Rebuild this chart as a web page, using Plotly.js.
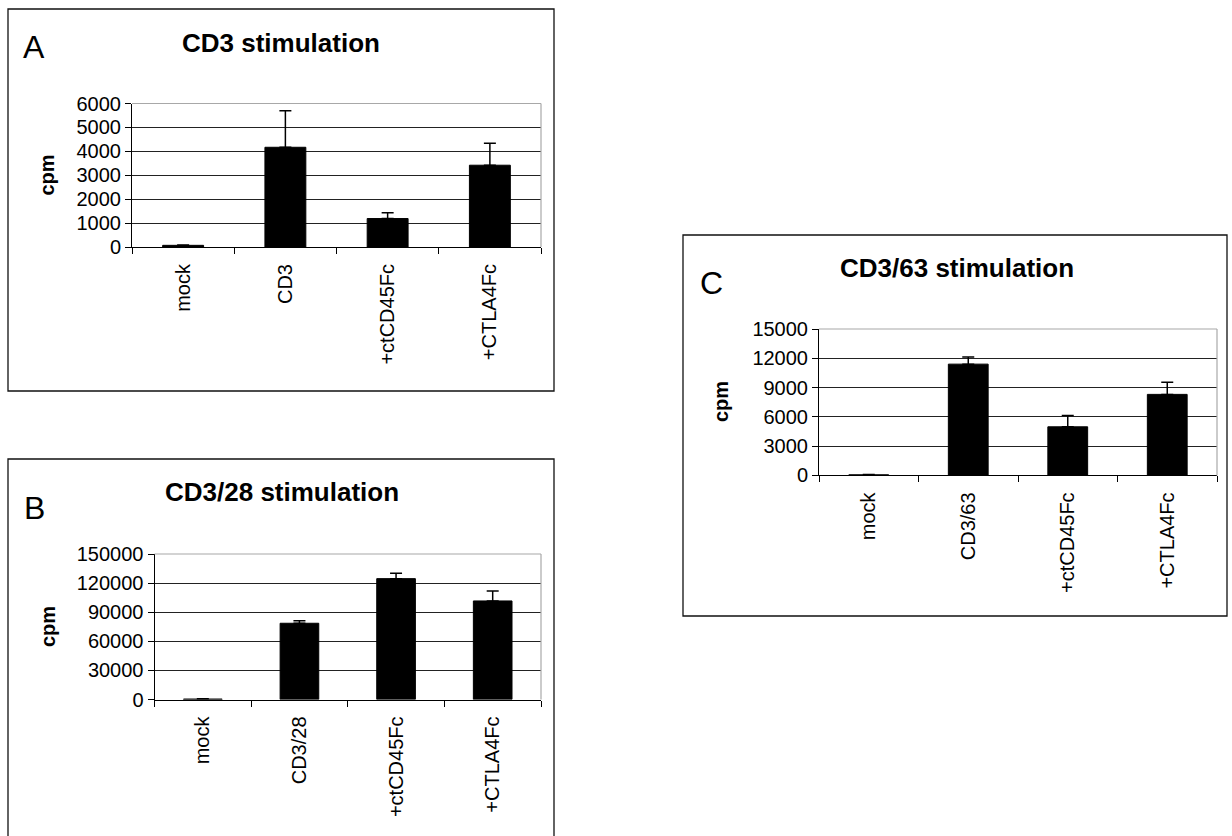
<!DOCTYPE html>
<html>
<head>
<meta charset="utf-8">
<script src="https://cdn.plot.ly/plotly-3.0.1.min.js"></script>
<style>
  html, body { margin: 0; padding: 0; background: #fff; }
  #chart { width: 1232px; height: 836px; }
</style>
</head>
<body>
<div id="chart"></div>
<script>
// ---- data ----
const categoriesA = ['mock', 'CD3', '+ctCD45Fc', '+CTLA4Fc'];
const valuesA = [70, 4170, 1190, 3420];
const errorsA = [15, 1530, 240, 920];
const tickvalsA = [0, 1000, 2000, 3000, 4000, 5000, 6000];

const categoriesB = ['mock', 'CD3/28', '+ctCD45Fc', '+CTLA4Fc'];
const valuesB = [500, 78600, 124600, 101600];
const errorsB = [150, 2700, 5500, 10300];
const tickvalsB = [0, 30000, 60000, 90000, 120000, 150000];

const categoriesC = ['mock', 'CD3/63', '+ctCD45Fc', '+CTLA4Fc'];
const valuesC = [60, 11400, 4980, 8300];
const errorsC = [20, 720, 1170, 1240];
const tickvalsC = [0, 3000, 6000, 9000, 12000, 15000];

const panelTitles = ['CD3 stimulation', 'CD3/28 stimulation', 'CD3/63 stimulation'];
const panelLetters = ['A', 'B', 'C'];
const yTitle = 'cpm';

// ---- layout geometry (pixels) ----
const W = 1232, H = 836;
const px = v => v / W;
const py = v => 1 - v / H;
const FONT = 'Arial, "Liberation Sans", sans-serif';

const panels = [
  { cats: categoriesA, vals: valuesA, errs: errorsA, ticks: tickvalsA,
    plot: [132, 541, 103.5, 247], box: [8, 554, 9, 391],
    title: [281, 42.5], letter: [34, 47], ytitle: [46.5, 175] },
  { cats: categoriesB, vals: valuesB, errs: errorsB, ticks: tickvalsB,
    plot: [154.5, 541, 554, 699.5], box: [8, 554, 459, 845],
    title: [282, 492], letter: [34, 507.5], ytitle: [48, 627] },
  { cats: categoriesC, vals: valuesC, errs: errorsC, ticks: tickvalsC,
    plot: [819, 1217, 329, 475.4], box: [683, 1227, 235, 616],
    title: [957, 267.5], letter: [711, 282.5], ytitle: [721, 402] }
];

const traces = [];
const layout = {
  width: W, height: H,
  margin: { l: 0, r: 0, t: 0, b: 0 },
  paper_bgcolor: '#fff', plot_bgcolor: '#fff',
  showlegend: false,
  font: { family: FONT, color: '#000' },
  shapes: [], annotations: []
};

panels.forEach((p, i) => {
  const sfx = i === 0 ? '' : String(i + 1);
  const xa = 'x' + sfx, ya = 'y' + sfx;
  traces.push({
    type: 'bar', x: p.cats, y: p.vals, xaxis: xa, yaxis: ya,
    marker: { color: '#000', line: { color: '#000', width: 1 } },
    width: 0.4,
    error_y: { type: 'data', symmetric: false, array: p.errs,
               arrayminus: p.errs.map(() => 0),
               color: '#000', thickness: 1.5, width: 6 },
    hoverinfo: 'skip'
  });
  layout['xaxis' + sfx] = {
    domain: [px(p.plot[0]), px(p.plot[1])],
    anchor: ya, type: 'category', range: [-0.5, 3.5],
    showline: true, linecolor: '#000', linewidth: 1,
    ticks: 'outside', tickson: 'boundaries', ticklen: 6, tickcolor: '#000',
    tickangle: -90, ticklabelstandoff: 8,
    tickfont: { family: FONT, size: 20, color: '#000' },
    showgrid: false, zeroline: false, fixedrange: true
  };
  layout['yaxis' + sfx] = {
    domain: [py(p.plot[3]), py(p.plot[2])],
    anchor: xa, range: [0, p.ticks[p.ticks.length - 1]],
    tickmode: 'array', tickvals: p.ticks, ticktext: p.ticks.map(String),
    exponentformat: 'none', separatethousands: false,
    showline: true, linecolor: '#000', linewidth: 1,
    ticks: 'outside', ticklen: 6, tickcolor: '#000',
    tickfont: { family: FONT, size: 20, color: '#000' },
    showgrid: true, gridcolor: '#222', gridwidth: 1,
    zeroline: false, fixedrange: true
  };
  // gray plot-area border (top & right)
  layout.shapes.push(
    { type: 'line', xref: xa + ' domain', yref: ya + ' domain',
      x0: 0, x1: 1, y0: 1, y1: 1, line: { color: '#a8a8a8', width: 1.2 }, layer: 'above' },
    { type: 'line', xref: xa + ' domain', yref: ya + ' domain',
      x0: 1, x1: 1, y0: 0, y1: 1, line: { color: '#a8a8a8', width: 1.2 }, layer: 'above' }
  );
  // panel box
  layout.shapes.push({
    type: 'rect', xref: 'paper', yref: 'paper',
    x0: px(p.box[0]), x1: px(p.box[1]), y0: py(p.box[3]), y1: py(p.box[2]),
    line: { color: '#111', width: 1.3 }, fillcolor: 'rgba(0,0,0,0)', layer: 'below'
  });
  layout.annotations.push(
    { text: '<b>' + panelTitles[i] + '</b>', xref: 'paper', yref: 'paper',
      x: px(p.title[0]), y: py(p.title[1]), xanchor: 'center', yanchor: 'middle',
      showarrow: false, font: { family: FONT, size: 26, color: '#000' } },
    { text: panelLetters[i], xref: 'paper', yref: 'paper',
      x: px(p.letter[0]), y: py(p.letter[1]), xanchor: 'center', yanchor: 'middle',
      showarrow: false, font: { family: FONT, size: 32, color: '#000' } },
    { text: '<b>' + yTitle + '</b>', xref: 'paper', yref: 'paper',
      x: px(p.ytitle[0]), y: py(p.ytitle[1]), xanchor: 'center', yanchor: 'middle',
      textangle: -90, showarrow: false, font: { family: FONT, size: 20, color: '#000' } }
  );
});

Plotly.newPlot('chart', traces, layout, { staticPlot: true, displayModeBar: false });
</script>
</body>
</html>
